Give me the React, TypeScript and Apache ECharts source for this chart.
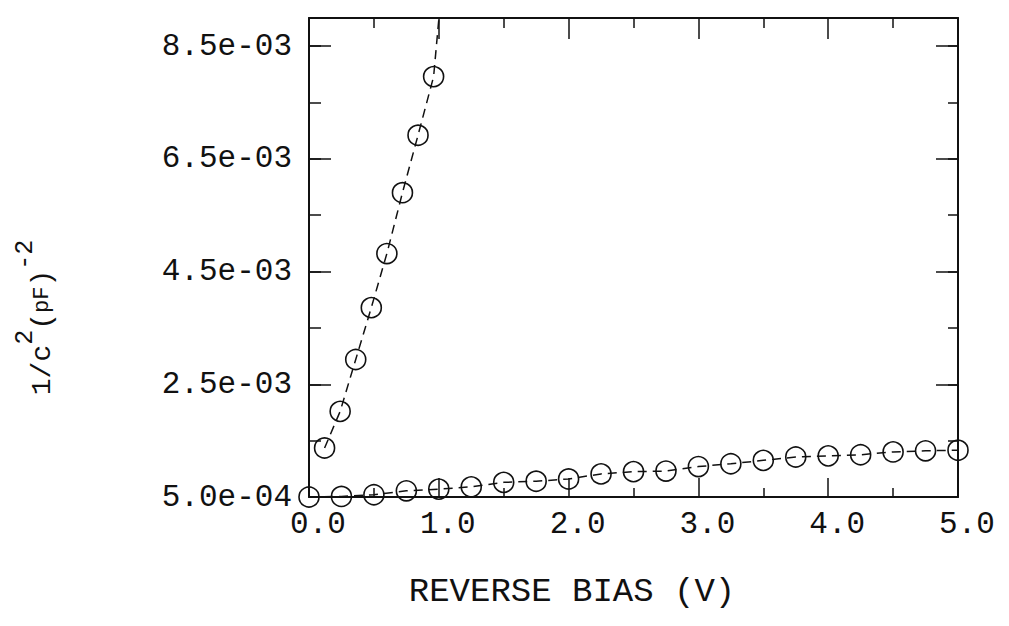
import React, { useEffect, useRef } from "react";
import * as echarts from "echarts";

// ---- data ----
const lowBias = [0, 0.25, 0.5, 0.75, 1.0, 1.25, 1.5, 1.75, 2.0, 2.25, 2.5, 2.75, 3.0, 3.25, 3.5, 3.75, 4.0, 4.25, 4.5, 4.75, 5.0];
const lowInvC2 = [5.0e-4, 5.1e-4, 5.4e-4, 6.1e-4, 6.4e-4, 6.8e-4, 7.6e-4, 7.8e-4, 8.2e-4, 9.1e-4, 9.5e-4, 9.6e-4, 1.04e-3, 1.09e-3, 1.15e-3, 1.21e-3, 1.23e-3, 1.25e-3, 1.3e-3, 1.32e-3, 1.33e-3];

const steepBias = [0.12, 0.24, 0.36, 0.48, 0.6, 0.72, 0.84, 0.96, 1.08];
const steepInvC2 = [1.37e-3, 2.02e-3, 2.94e-3, 3.86e-3, 4.82e-3, 5.9e-3, 6.92e-3, 7.96e-3, 1.1e-2];

const xTickValues = [0, 1, 2, 3, 4, 5];
const xTickLabels = ["0.0", "1.0", "2.0", "3.0", "4.0", "5.0"];
const yTickValues = [5.0e-4, 2.5e-3, 4.5e-3, 6.5e-3, 8.5e-3];
const yTickLabels = ["5.0e-04", "2.5e-03", "4.5e-03", "6.5e-03", "8.5e-03"];

const X_MIN = 0, X_MAX = 5;
const Y_MIN = 5.0e-4, Y_MAX = 9.0e-3;

const FONT = "'Liberation Mono', 'DejaVu Sans Mono', monospace";
const INK = "#111";

function lookup(values: number[], labels: string[], v: number, tol: number) {
  for (let i = 0; i < values.length; i++) {
    if (Math.abs(values[i] - v) < tol) return labels[i];
  }
  return "";
}

export default function App() {
  const ref = useRef<HTMLDivElement>(null);

  useEffect(() => {
    document.body.style.margin = "0";
    if (!ref.current) return;
    const chart = echarts.init(ref.current, undefined, { renderer: "svg" });

    const axisLine = { show: true, lineStyle: { color: INK, width: 2 } };
    const majorTick = (len: number) => ({ show: true, inside: true, length: len, lineStyle: { color: INK, width: 1.5 } });

    const option: any = {
      animation: false,
      backgroundColor: "#fff",
      grid: { left: 309, right: 51, top: 18, bottom: 129, containLabel: false },
      xAxis: [
        {
          type: "value",
          position: "bottom",
          min: X_MIN,
          max: X_MAX,
          interval: 1,
          axisLine,
          axisTick: majorTick(19),
          minorTick: { show: true, splitNumber: 2, length: 9, lineStyle: { color: INK, width: 1.5 } },
          splitLine: { show: false },
          axisLabel: {
            show: true,
            margin: 12,
            color: INK,
            fontFamily: FONT,
            fontSize: 31,
            padding: [0, 0, 0, 18],
            formatter: (v: number) => lookup(xTickValues, xTickLabels, v, 1e-6),
          },
          name: "REVERSE BIAS (V)",
          nameLocation: "middle",
          nameGap: 78,
          nameTextStyle: { color: INK, fontFamily: FONT, fontSize: 34, padding: [0, 123, 0, 0] },
        },
        {
          type: "value",
          position: "top",
          min: X_MIN,
          max: X_MAX,
          interval: 1,
          axisLine,
          axisTick: majorTick(21),
          minorTick: { show: true, splitNumber: 2, length: 10, lineStyle: { color: INK, width: 1.5 } },
          splitLine: { show: false },
          axisLabel: { show: false },
        },
      ],
      yAxis: [
        {
          type: "value",
          position: "left",
          min: Y_MIN,
          max: Y_MAX,
          interval: 2e-3,
          axisLine,
          axisTick: majorTick(22),
          splitLine: { show: false },
          axisLabel: {
            show: true,
            margin: 17,
            color: INK,
            fontFamily: FONT,
            fontSize: 31,
            formatter: (v: number) => lookup(yTickValues, yTickLabels, v, 1e-7),
          },
          name: "{a|1/c}{sup|2}{a|(}{b|pF}{a|)}{sup|-2}",
          nameLocation: "middle",
          nameRotate: 90,
          nameGap: 238,
          nameTextStyle: {
            color: INK,
            fontFamily: FONT,
            padding: [0, 120, 0, 0],
            rich: {
              a: { fontFamily: FONT, fontSize: 28, lineHeight: 58, color: INK },
              b: { fontFamily: FONT, fontSize: 22, lineHeight: 58, color: INK },
              sup: { fontFamily: FONT, fontSize: 25, lineHeight: 18, verticalAlign: "top", color: INK },
            },
          },
        },
        {
          type: "value",
          position: "left",
          min: Y_MIN,
          max: Y_MAX,
          interval: 1e-3,
          axisLine: { show: false },
          axisTick: majorTick(12),
          splitLine: { show: false },
          axisLabel: { show: false },
        },
        {
          type: "value",
          position: "right",
          min: Y_MIN,
          max: Y_MAX,
          interval: 2e-3,
          axisLine,
          axisTick: majorTick(22),
          splitLine: { show: false },
          axisLabel: { show: false },
        },
        {
          type: "value",
          position: "right",
          min: Y_MIN,
          max: Y_MAX,
          interval: 1e-3,
          axisLine: { show: false },
          axisTick: majorTick(10),
          splitLine: { show: false },
          axisLabel: { show: false },
        },
      ],
      series: [
        {
          name: "low",
          type: "line",
          xAxisIndex: 0,
          yAxisIndex: 0,
          clip: true,
          data: lowBias.map((x, i) => [x, lowInvC2[i]]),
          symbol: "circle",
          symbolSize: 20,
          itemStyle: { color: "rgba(0,0,0,0)", borderColor: INK, borderWidth: 1.6 },
          lineStyle: { color: INK, width: 1.5, type: [9, 6] },
        },
        {
          name: "steep",
          type: "line",
          xAxisIndex: 0,
          yAxisIndex: 0,
          clip: true,
          data: steepBias.map((x, i) => [x, steepInvC2[i]]),
          symbol: "circle",
          symbolSize: 20,
          itemStyle: { color: "rgba(0,0,0,0)", borderColor: INK, borderWidth: 1.6 },
          lineStyle: { color: INK, width: 1.5, type: [9, 6] },
        },
      ],
    };

    chart.setOption(option);
    return () => chart.dispose();
  }, []);

  return <div ref={ref} style={{ width: 1009, height: 626 }} />;
}
